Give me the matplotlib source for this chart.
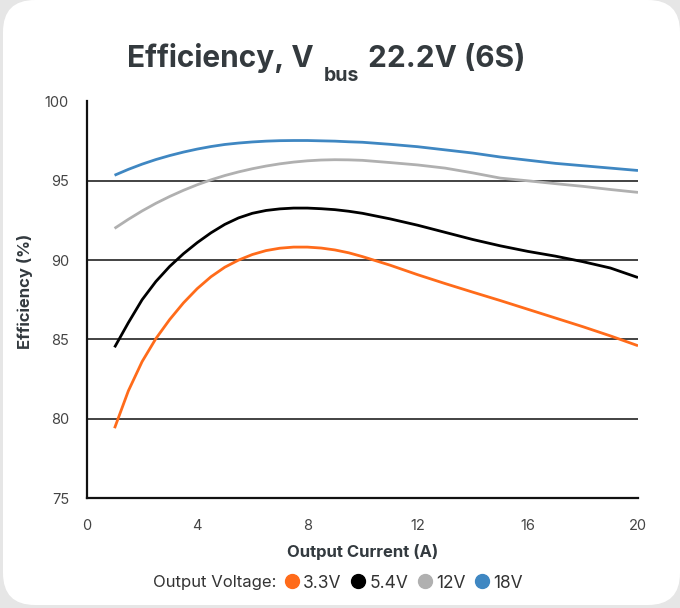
import matplotlib
matplotlib.use('Agg')
import matplotlib.pyplot as plt
from matplotlib.patches import FancyBboxPatch
from matplotlib.lines import Line2D

# ---------------- data ----------------
current = [1, 1.5, 2, 2.5, 3, 3.5, 4, 4.5, 5, 5.5, 6, 6.5, 7, 7.5, 8, 8.5, 9, 9.5, 10,
           11, 12, 13, 14, 15, 16, 17, 18, 19, 20]
eff_3v3 = [79.4, 81.75, 83.6, 85.05, 86.25, 87.3, 88.2, 88.95, 89.55, 90.0, 90.35, 90.6,
           90.75, 90.82, 90.82, 90.76, 90.64, 90.46, 90.22,
           89.68, 89.08, 88.52, 87.98, 87.45, 86.9, 86.35, 85.8, 85.22, 84.6]
eff_5v4 = [84.5, 86.05, 87.5, 88.65, 89.6, 90.4, 91.1, 91.72, 92.25, 92.66, 92.95, 93.13,
           93.23, 93.28, 93.28, 93.24, 93.18, 93.08, 92.95,
           92.6, 92.2, 91.75, 91.3, 90.9, 90.55, 90.25, 89.9, 89.5, 88.9]
eff_12v = [92.0, 92.57, 93.1, 93.58, 94.01, 94.4, 94.75, 95.06, 95.33, 95.56, 95.76, 95.93,
           96.07, 96.18, 96.26, 96.31, 96.33, 96.32, 96.29,
           96.15, 96.0, 95.8, 95.5, 95.17, 95.0, 94.82, 94.65, 94.45, 94.27]
eff_18v = [95.35, 95.72, 96.05, 96.34, 96.59, 96.81, 97.0, 97.16, 97.29, 97.38, 97.45, 97.5,
           97.53, 97.54, 97.54, 97.52, 97.5, 97.46, 97.43,
           97.3, 97.15, 96.95, 96.75, 96.5, 96.3, 96.1, 95.95, 95.8, 95.65]

series_labels = ['3.3V', '5.4V', '12V', '18V']
series_colors = ['#ff6b1a', '#000000', '#b0b0b0', '#3f87c2']
x_ticks = [0, 4, 8, 12, 16, 20]
y_ticks = [75, 80, 85, 90, 95, 100]

FONT = ['Inter', 'DejaVu Sans']
plt.rcParams['font.family'] = FONT

W, H = 680, 608
fig = plt.figure(figsize=(W / 100, H / 100), dpi=100)
fig.patch.set_facecolor('#e6e6e6')

# rounded white card
rx = 32 / W
card = FancyBboxPatch((3 / W, 1 - 605 / H), 1 - 3 / W, 605 / H,
                      boxstyle=f"round,pad=0,rounding_size={rx}",
                      mutation_aspect=W / H,
                      transform=fig.transFigure, facecolor='white',
                      edgecolor='none', zorder=-10)
fig.patches.append(card)

ax = fig.add_axes([87 / W, 1 - 498 / H, (638 - 87) / W, (498 - 101.5) / H])
ax.set_facecolor('none')

for yv, lab, col in zip([eff_3v3, eff_5v4, eff_12v, eff_18v], series_labels, series_colors):
    ax.plot(current, yv, color=col, lw=2.0, label=lab, solid_capstyle='butt',
            solid_joinstyle='round', zorder=3)

ax.set_xlim(0, 20)
ax.set_ylim(75, 100)
ax.set_xticks(x_ticks)
ax.set_yticks(y_ticks)
ax.tick_params(length=0, labelsize=10.5, colors='#444444')
ax.tick_params(axis='x', pad=15)
ax.tick_params(axis='y', pad=13)
for sp in ['top', 'right']:
    ax.spines[sp].set_visible(False)
for sp in ['left', 'bottom']:
    ax.spines[sp].set_linewidth(1.6)
    ax.spines[sp].set_color('#111111')
for g in y_ticks[1:]:
    ax.axhline(g, color='#222222', lw=1.2, zorder=1)

ax.set_xlabel('Output Current (A)', fontsize=12, fontweight='bold', color='#333a3f', labelpad=8)
ax.set_ylabel('Efficiency (%)', fontsize=12, fontweight='bold', color='#333a3f')
ax.yaxis.set_label_coords(-0.098, 0.52)

# title pieces
renderer = fig.canvas.get_renderer()
title_kw = dict(fontsize=21.5, fontweight='bold', color='#343a3e')
sub_kw = dict(fontsize=14, fontweight='bold', color='#343a3e')
t1 = fig.text(0, 1 - 67 / H, 'Efficiency, V', va='baseline', ha='left', **title_kw)
t2 = fig.text(0, 1 - 81 / H, 'bus', va='baseline', ha='left', **sub_kw)
t3 = fig.text(0, 1 - 67 / H, '22.2V (6S)', va='baseline', ha='left', **title_kw)
w1 = t1.get_window_extent(renderer).width
w2 = t2.get_window_extent(renderer).width
w3 = t3.get_window_extent(renderer).width
gap1, gap2 = 10, 9
total = w1 + gap1 + w2 + gap2 + w3
x0 = 326 - total / 2
t1.set_x(x0 / W)
t2.set_x((x0 + w1 + gap1) / W)
t3.set_x((x0 + w1 + gap1 + w2 + gap2) / W)

# legend
fig.text(276 / W, 1 - 583 / H, 'Output Voltage:', ha='right', va='center',
         fontsize=12, color='#333333')
handles = [Line2D([], [], marker='o', linestyle='none', markersize=10,
                  markerfacecolor=c, markeredgecolor=c) for c in series_colors]
fig.legend(handles, series_labels, loc='center left', bbox_to_anchor=(286 / W, 1 - 583 / H),
           ncol=4, frameon=False, fontsize=12.5, handlelength=0.7, handletextpad=0.3,
           columnspacing=0.6, borderaxespad=0, borderpad=0, labelcolor='#333333')

fig.savefig('out.png', dpi=100, facecolor=fig.get_facecolor())
